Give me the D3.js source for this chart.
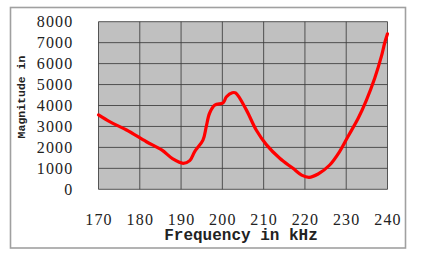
<!DOCTYPE html>
<html><head><meta charset="utf-8">
<script src="https://cdn.jsdelivr.net/npm/d3@7"></script>
<style>body{margin:0;background:#fff}svg{display:block}</style>
</head><body>
<svg id="c" width="429" height="262"></svg>
<script>
const freq = [170,172.7,176.8,181.6,185.3,188,190.5,192.1,193.3,195.3,196.1,196.9,198.2,200.2,201,202.4,203.2,205.8,208.2,210.7,213.9,217.1,219.2,221,223.2,226,228.4,230.4,232.9,234.9,236.9,238.5,239.3,240];
const magnitude = [3550,3230,2830,2270,1880,1450,1240,1370,1800,2350,2990,3630,4020,4130,4420,4610,4600,3790,2830,2120,1480,1000,680,570,730,1160,1800,2510,3390,4260,5300,6330,6970,7420];
const xTicks = [170,180,190,200,210,220,230,240];
const yTicks = [0,1000,2000,3000,4000,5000,6000,7000,8000];
const xTitle = "Frequency in kHz";
const yTitle = "Magnitude in";

const svg = d3.select("#c");
const L = 98.5, R = 387.5, T = 21.7, B = 189.3;
const x = d3.scaleLinear().domain([170,240]).range([L,R]);
const y = d3.scaleLinear().domain([0,8000]).range([B,T]);

svg.append("rect").attr("x",10.5).attr("y",7.5).attr("width",395).attr("height",240.5)
  .attr("fill","#fff").attr("stroke","#a0a0a0").attr("stroke-width",1.6);

svg.append("rect").attr("x",L).attr("y",T).attr("width",R-L).attr("height",B-T).attr("fill","#c0c0c0");

const g = svg.append("g").attr("stroke","#3c3c3c").attr("stroke-width",1).attr("stroke-opacity",0.85);
g.selectAll(".v").data(xTicks).join("line")
  .attr("x1",d=>x(d)).attr("x2",d=>x(d)).attr("y1",T).attr("y2",B);
g.selectAll(".h").data(yTicks).join("line")
  .attr("y1",d=>y(d)).attr("y2",d=>y(d)).attr("x1",L).attr("x2",R);

const xa = svg.append("g").attr("transform",`translate(0,${B})`)
  .call(d3.axisBottom(x).tickValues(xTicks).tickSize(0).tickPadding(24).tickFormat(d3.format("d")));
xa.select(".domain").remove();
const ya = svg.append("g").attr("transform",`translate(${L},0)`)
  .call(d3.axisLeft(y).tickValues(yTicks).tickSize(0).tickPadding(25).tickFormat(d3.format("d")));
ya.select(".domain").remove();
svg.selectAll(".tick text")
  .style("font-family",'"Liberation Serif"').style("font-size","16px")
  .style("letter-spacing","1.2px").style("fill","#222");

svg.append("path").datum(freq.map((f,i)=>[f,magnitude[i]]))
  .attr("fill","none").attr("stroke","#ff0000").attr("stroke-width",3.2)
  .attr("stroke-linejoin","round").attr("stroke-linecap","round")
  .attr("d", d3.line().x(d=>x(d[0])).y(d=>y(d[1])).curve(d3.curveCatmullRom.alpha(0.5)));

svg.append("text").attr("x",241).attr("y",240).attr("text-anchor","middle")
  .style("font-family",'"Liberation Mono"').style("font-weight","bold")
  .style("font-size","16px").style("fill","#222").text(xTitle);
svg.append("text").attr("transform","translate(25,97) rotate(-90)").attr("text-anchor","middle")
  .style("font-family",'"Liberation Mono"').style("font-weight","bold")
  .style("font-size","11.5px").style("fill","#222").text(yTitle);
</script>
</body></html>
